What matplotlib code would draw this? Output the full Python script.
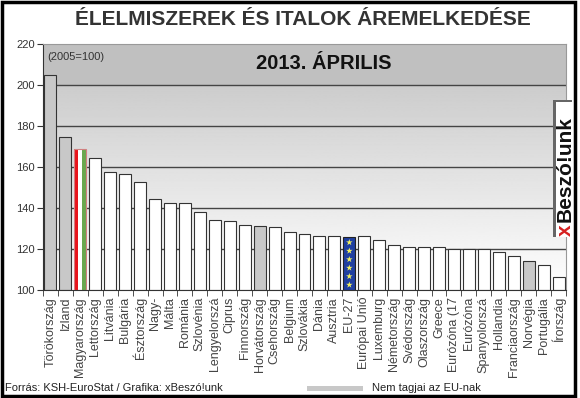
import numpy as np
import matplotlib.pyplot as plt
from matplotlib.patches import Rectangle

plt.rcParams['font.family'] = ['Liberation Sans', 'DejaVu Sans']

# country labels and index values (2005=100)
countries = ['Törökország', 'Izland', 'Magyarország', 'Lettország', 'Litvánia',
             'Bulgária', 'Észtország', 'Nagy-', 'Málta', 'Románia', 'Szlovénia',
             'Lengyelorszá', 'Ciprus', 'Finnország', 'Horvátország', 'Csehország',
             'Belgium', 'Szlovákia', 'Dánia', 'Ausztria', 'EU-27', 'Európai Unió',
             'Luxemburg', 'Németország', 'Svédország', 'Olaszország', 'Greece',
             'Eurózóna (17', 'Eurózóna', 'Spanyolorszá', 'Hollandia',
             'Franciaország', 'Norvégia', 'Portugália', 'Írország']
values = [204.9, 174.8, 168.9, 164.4, 157.4, 156.4, 152.7, 144.2, 142.6, 142.6,
          138.0, 134.1, 133.7, 131.5, 131.1, 130.6, 128.2, 127.2, 126.2, 126.2,
          125.7, 126.2, 124.2, 122.0, 120.8, 120.8, 120.8, 120.2, 120.2, 119.8,
          118.4, 116.6, 114.0, 112.4, 106.1]
non_eu = ['Törökország', 'Izland', 'Horvátország', 'Norvégia']
yticks = [100, 120, 140, 160, 180, 200, 220]

fig = plt.figure(figsize=(5.8, 3.98), dpi=100)
ax = fig.add_axes([0.0741, 0.2714, 0.9018, 0.618])

n = len(countries)
x = np.arange(n)
ax.set_xlim(-0.5, n - 0.5)
ax.set_ylim(100, 220)

# background: grey band on top, gradient below
ax.axhspan(200, 220, color='#c0c0c0', zorder=0, lw=0)
grad = np.linspace(1.0, 0.80, 256).reshape(-1, 1)
ax.imshow(grad, extent=[-0.5, n - 0.5, 100, 200], origin='lower', aspect='auto',
          cmap='gray', vmin=0, vmax=1, zorder=0)

for yv in yticks[1:-1]:
    ax.axhline(yv, color='#444444', lw=1.0, zorder=1)

w = 0.8
for i, (c, v) in enumerate(zip(countries, values)):
    if c == 'Magyarország':
        for k, col in enumerate(['#e8141b', 'white', '#6aa84f']):
            ax.bar(i - w / 3 + k * w / 3, v - 100, bottom=100, width=w / 3,
                   color=col, edgecolor='none', zorder=2)
        ax.bar(i, v - 100, bottom=100, width=w, fill=False,
               edgecolor='#d08080', lw=0.8, zorder=3)
    elif c == 'EU-27':
        ax.bar(i, v - 100, bottom=100, width=w, color='#1f3fa0',
               edgecolor='#222222', lw=0.8, zorder=2)
        ax.scatter([i] * 6, np.linspace(102.5, v - 2.5, 6), marker='*', s=24,
                   color='#f0f060', edgecolor='none', zorder=3)
    else:
        col = '#c8c8c8' if c in non_eu else 'white'
        ax.bar(i, v - 100, bottom=100, width=w, color=col,
               edgecolor='#333333', lw=0.8, zorder=2)

ax.set_yticks(yticks)
ax.set_yticklabels([str(t) for t in yticks], fontsize=8, color='#333333')
ax.set_xticks(x)
ax.set_xticklabels(countries, rotation=90, fontsize=9, color='#444444')
ax.set_xticks(np.arange(n + 1) - 0.5, minor=True)
ax.tick_params(axis='x', which='major', length=0, pad=5)
ax.tick_params(axis='x', which='minor', length=4, color='#333333')
ax.tick_params(axis='y', length=4, color='#333333', pad=2)
for s in ['left', 'bottom']:
    ax.spines[s].set_color('#333333')
for s in ['top', 'right']:
    ax.spines[s].set_color('#999999')

ax.text(0.008, 0.947, '(2005=100)', transform=ax.transAxes, fontsize=8,
        color='#333333', va='center', ha='left')
ax.text(0.537, 0.919, '2013. ÁPRILIS', transform=ax.transAxes, fontsize=14.5,
        fontweight='bold', ha='center', va='center', color='#111111')

fig.text(0.522, 0.95, 'ÉLELMISZEREK ÉS ITALOK ÁREMELKEDÉSE', ha='center',
         va='center', fontsize=15, fontweight='bold', color='#333333')

# logo
fig.patches.append(Rectangle((0.953, 0.405), 0.034, 0.344, transform=fig.transFigure,
                             facecolor='#666666', edgecolor='none', zorder=4))
fig.patches.append(Rectangle((0.958, 0.405), 0.030, 0.339, transform=fig.transFigure,
                             facecolor='white', edgecolor='none', zorder=5))
fig.text(0.974, 0.408, 'x', rotation=90, ha='center', va='bottom', fontsize=15,
         fontweight='bold', color='#d62020', zorder=6)
fig.text(0.974, 0.443, 'Beszó!unk', rotation=90, ha='center', va='bottom',
         fontsize=15, fontweight='bold', color='#111111', zorder=6)

# footer
fig.text(0.009, 0.025, 'Forrás: KSH-EuroStat / Grafika: xBeszó!unk', fontsize=8,
         color='#222222', va='center')
fig.patches.append(Rectangle((0.529, 0.017), 0.097, 0.012, transform=fig.transFigure,
                             facecolor='#c8c8c8', edgecolor='none'))
fig.text(0.641, 0.025, 'Nem tagjai az EU-nak', fontsize=8, color='#222222',
         va='center')

# outer frame
fig.patches.append(Rectangle((0.003, 0.004), 0.989, 0.992, transform=fig.transFigure,
                             fill=False, edgecolor='black', lw=2.5, zorder=10))

fig.savefig('out.png', dpi=100)
